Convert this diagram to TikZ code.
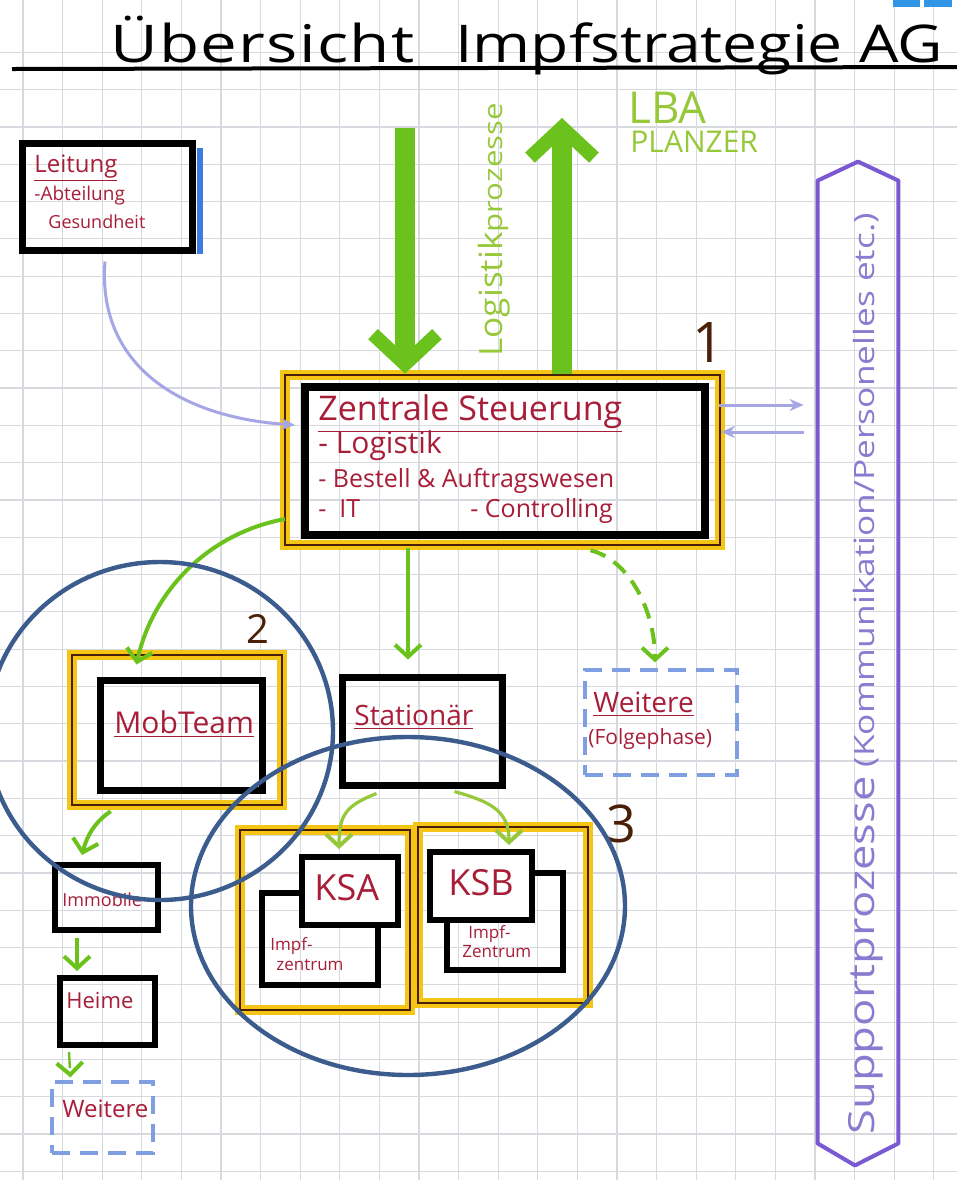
\documentclass[tikz,border=0pt]{standalone}
\usepackage{fontspec}
\setmainfont{Open Sans}
\usetikzlibrary{arrows.meta,fit,calc}
\definecolor{gridc}{HTML}{D6DADE}
\definecolor{redtext}{HTML}{A81E38}
\definecolor{greenA}{HTML}{6CC21C}
\definecolor{greenL}{HTML}{96C83A}
\definecolor{lav}{HTML}{A6A6E6}
\definecolor{purp}{HTML}{7A5AD2}
\definecolor{purtxt}{HTML}{8B7BD0}
\definecolor{hyellow}{HTML}{F4C514}
\definecolor{brownline}{HTML}{4A2008}
\definecolor{circblue}{HTML}{3B5C8C}
\definecolor{dashblue}{HTML}{7F9FE2}
\definecolor{hlblue}{HTML}{3C7BE0}
\tikzset{
  txt/.style={inner sep=0pt, anchor=base west},
  rtxt/.style={txt, text=redtext},
  blackbox/.style={draw=black, line width=3pt, inner sep=0pt},
  frontbox/.style={blackbox, fill=white},
  hlbox/.style={draw=brownline, line width=1.3pt, inner sep=0pt, preaction={draw=hyellow, line width=5pt}},
  dashbox/.style={draw=dashblue, line width=1.6pt, dash pattern=on 9pt off 5pt, inner sep=0pt},
  bigarrow/.style={draw=greenA, line width=10pt, -{Straight Barb[length=15pt,width=32pt,line width=7pt]}},
  garrow/.style={draw=greenA, line width=2pt, -{Straight Barb[length=6pt,width=13pt,line width=2pt]}},
  gdash/.style={garrow, dash pattern=on 8pt off 5pt},
  lavarrow/.style={draw=lav, line width=1.5pt, -{Stealth[length=7pt,width=6pt]}},
  circ/.style={draw=circblue, line width=2.2pt},
  plain/.style={inner sep=0pt}
}
\begin{document}
\begin{tikzpicture}[x=0.5pt,y=-0.5pt]
\useasboundingbox (0,0) rectangle (957,1180);
\fill[white] (0,0) rectangle (957,1180);
% grid
\foreach \i in {0,...,24} \draw[gridc, line width=0.6pt] (23+\i*39.6,0) -- (23+\i*39.6,1180);
\foreach \j in {1,...,32} \draw[gridc, line width=0.6pt] (0,15+\j*37.3) -- (957,15+\j*37.3);
% top right blue marks
\fill[hlblue!80!cyan] (893,0) rectangle (920,7);
\fill[hlblue!80!cyan] (924,0) rectangle (952,7);
% title
\node[txt, font=\fontsize{26}{26}\selectfont\addfontfeature{LetterSpace=2}] (t1) at (110,62) {\scalebox{1.26}[1]{Übersicht}};
\node[txt, font=\fontsize{26}{26}\selectfont] (t2) at (455,62) {\scalebox{1.2}[1]{Impfstrategie AG}};
\draw[line width=2pt] (12,69) -- (957,67);

% Leitung
\node[blackbox, line width=3.5pt, fit={(22,143) (192,250)}] (leit) {};
\draw[hlblue, line width=3pt] ($(leit.north east)+(4,8)$) -- ($(leit.south east)+(4,0)$);
\node[rtxt, font=\fontsize{12}{12}\selectfont] (leit1) at (34,172) {\underline{Leitung}};
\node[rtxt, font=\fontsize{9.5}{9.5}\selectfont] (leit2) at (34,200) {-Abteilung};
\node[rtxt, font=\fontsize{9}{9}\selectfont] (leit3) at (48,228) {Gesundheit};

% Zentrale
\node[hlbox, fit={(285,375) (720,545)}] (zout) {};
\node[blackbox, line width=4pt, fit={(305,387) (705,535)}] (zin) {};
\node[rtxt, font=\fontsize{17}{17}\selectfont] (zt1) at (318,420) {\underline{Zentrale Steuerung}};
\node[rtxt, font=\fontsize{15}{15}\selectfont] (zt2) at (318,453) {- Logistik};
\node[rtxt, font=\fontsize{12.5}{12.5}\selectfont] (zt3) at (318,487) {- Bestell \& Auftragswesen};
\node[rtxt, font=\fontsize{12.5}{12.5}\selectfont] (zt4) at (318,517) {- \ IT};
\node[rtxt, font=\fontsize{12.5}{12.5}\selectfont] (zt5) at (470,517) {- Controlling};
\node[txt, text=brownline, font=\fontsize{28}{28}\selectfont] (n1) at (692,362) {1};

% big arrows
\coordinate (dtop) at (405,128);
\coordinate (utop) at (562,118);
\draw[bigarrow] (dtop) -- (dtop |- zout.north);
\draw[bigarrow] (utop |- zout.north) -- (utop);
\node[txt, rotate=90, text=greenL] (logi) at (502,357) {\fontsize{16}{16}\selectfont\scalebox{1.1}[1]{Logistik}\fontsize{13}{13}\selectfont\scalebox{1.2}[1]{prozesse}};
\node[txt, text=greenL, font=\fontsize{22}{22}\selectfont] (lba) at (628,123) {LBA};
\node[txt, text=greenL, font=\fontsize{15}{15}\selectfont] (planzer) at (630,152) {PLANZER};

% Leitung -> Zentrale
\draw[lavarrow] ($(leit.south)+(-2,8)$) .. controls +(-8,100) and +(-120,-8) .. ($(zin.west)+(-6,-36)$);

% Support
\node[plain, fit={(818,181) (898,1143)}] (sup) {};
\draw[purp, line width=2pt, line join=round] (sup.north west) -- ($(sup.north)+(0,-19)$) -- (sup.north east) -- (sup.south east) -- ($(sup.south)+(-3,22)$) -- (sup.south west) -- cycle;
\node[txt, rotate=90, text=purtxt] (suptxt) at (874,1135) {\fontsize{18}{18}\selectfont\scalebox{1.26}[1]{Supportprozesse} \fontsize{14}{14}\selectfont\scalebox{1.26}[1]{(Kommunikation/Personelles etc.)}};
\coordinate (za1) at ($(zin.east)+(10,-56)$);
\coordinate (za2) at ($(zin.east)+(12,-29)$);
\draw[lavarrow] (za1) -- ($(za1 -| sup.west)+(-14,0)$);
\draw[lavarrow] ($(za2 -| sup.west)+(-14,0)$) -- (za2);

% MobTeam
\node[hlbox, fit={(72,655) (282,805)}] (mobout) {};
\node[blackbox, line width=3.5pt, fit={(100,680) (262,790)}] (mobin) {};
\node[rtxt, font=\fontsize{15}{15}\selectfont] (mobt) at (114,733) {\underline{MobTeam}};
\node[txt, text=brownline, font=\fontsize{20}{20}\selectfont] (n2) at (246,643) {2};

% Stationaer
\node[blackbox, line width=3.5pt, fit={(342,677) (502,785)}] (stat) {};
\node[rtxt, font=\fontsize{14}{14}\selectfont] (statt) at (354,725) {\underline{Stationär}};

% Weitere (Folgephase)
\node[dashbox, fit={(585,670) (737,775)}] (weit1) {};
\node[rtxt, font=\fontsize{14}{14}\selectfont] (w1a) at (593,712) {\underline{Weitere}};
\node[rtxt, font=\fontsize{10.5}{10.5}\selectfont] (w1b) at (588,744) {(Folgephase)};

% arrows from Zentrale
\draw[garrow] ($(zin.south west)+(-16,-20)$) .. controls +(-80,15) and +(15,-70) .. ($(mobin.north west)+(40,-12)$);
\draw[garrow] ($(stat.north |- zout.south)+(-14,2)$) -- ($(stat.north)+(-14,-14)$);
\draw[gdash] ($(zout.south)+(88,4)$) .. controls +(40,10) and +(0,-50) .. ($(weit1.north)+(-6,-6)$);

% left column
\node[blackbox, fit={(55,865) (158,930)}] (immo) {};
\node[rtxt, font=\fontsize{9}{9}\selectfont] (immot) at (62,906) {Immobile};
\node[blackbox, fit={(60,978) (155,1045)}] (heime) {};
\node[rtxt, font=\fontsize{11}{11}\selectfont] (heimet) at (66,1008) {Heime};
\node[dashbox, fit={(52,1082) (153,1153)}] (weit2) {};
\node[rtxt, font=\fontsize{12}{12}\selectfont] (w2) at (62,1117) {Weitere};
\draw[garrow] ($(mobout.south west)+(40,5)$) .. controls +(-15,10) and +(5,-20) .. ($(immo.north west)+(30,-7)$);
\draw[garrow] ($(immo.south west)+(25,5)$) -- ($(heime.north west)+(20,-4)$);
\draw[gdash, line width=1.2pt] ($(heime.south west)+(12,4)$) -- ($(weit2.north west)+(20,-3)$);

% KSA group
\node[hlbox, fit={(240,830) (410,1010)}] (ksaout) {};
\node[blackbox, fit={(262,893) (378,985)}] (ksaback) {};
\node[frontbox, fit={(302,857) (398,925)}] (ksa) {};
\node[rtxt, font=\fontsize{18}{18}\selectfont] (ksat) at (314,900) {KSA};
\node[rtxt, font=\fontsize{8.5}{8.5}\selectfont] (ksai1) at (270,950) {Impf-};
\node[rtxt, font=\fontsize{8.5}{8.5}\selectfont] (ksai2) at (276,970) {zentrum};
% KSB group
\node[hlbox, fit={(418,827) (588,1003)}] (ksbout) {};
\node[blackbox, fit={(447,873) (563,970)}] (ksbback) {};
\node[frontbox, fit={(430,852) (532,920)}] (ksb) {};
\node[rtxt, font=\fontsize{18}{18}\selectfont] (ksbt) at (448,895) {KSB};
\node[rtxt, font=\fontsize{8.5}{8.5}\selectfont] (ksbi1) at (468,938) {Impf-};
\node[rtxt, font=\fontsize{8.5}{8.5}\selectfont] (ksbi2) at (462,957) {Zentrum};
\node[txt, text=brownline, font=\fontsize{26}{26}\selectfont] (n3) at (606,842) {3};
\draw[garrow, draw=greenL, line width=1.6pt] ($(stat.south west)+(38,5)$) .. controls +(-30,12) and +(0,-35) .. ($(ksa.north west)+(40,-5)$);
\draw[garrow, draw=greenL, line width=1.6pt] ($(stat.south west)+(116,3)$) .. controls +(35,10) and +(0,-35) .. ($(ksb.north west)+(82,-4)$);

% circles
\draw[circ] (160,731) ellipse [x radius=173, y radius=169];
\draw[circ] (408,906) ellipse [x radius=217, y radius=169];
\end{tikzpicture}
\end{document}
